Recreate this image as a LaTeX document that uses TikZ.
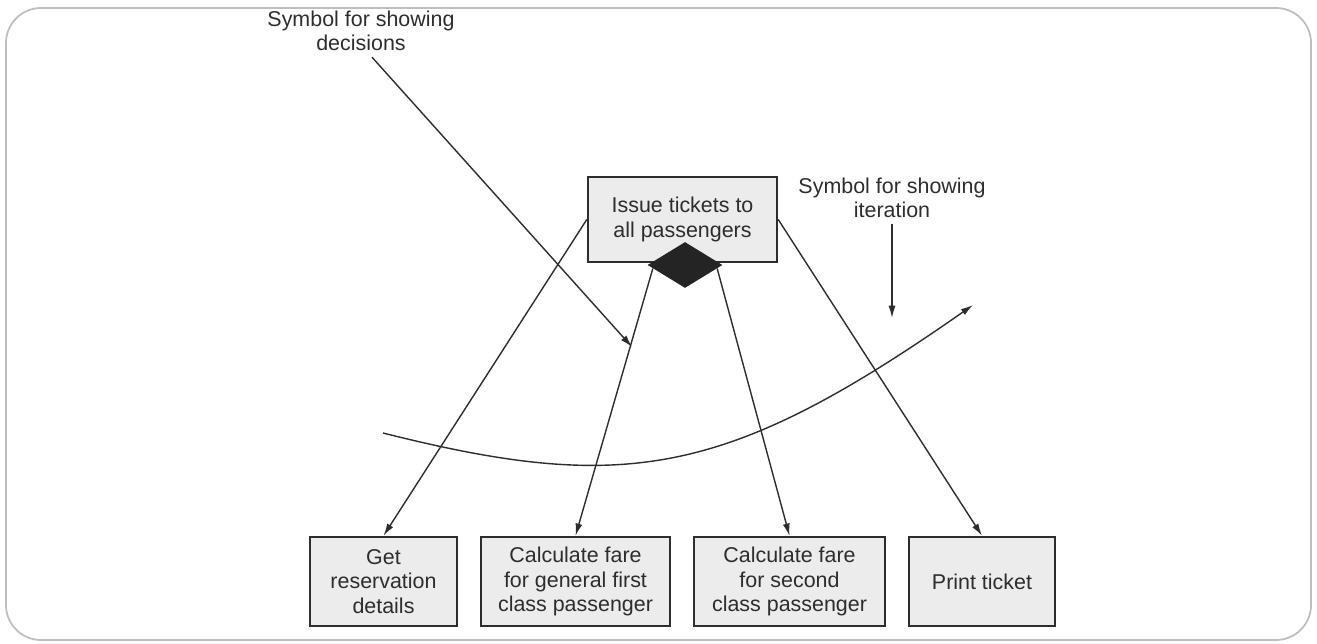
\documentclass[tikz,border=0pt]{standalone}
\usepackage{fontspec}
\setmainfont{Liberation Sans}
\usetikzlibrary{arrows.meta,positioning,shapes.geometric,calc}
\definecolor{ink}{RGB}{45,45,45}
\definecolor{panel}{RGB}{236,236,236}
\definecolor{frame}{RGB}{190,190,190}
\tikzset{
  >={Latex[length=7pt,width=4pt]},
  task/.style={draw=ink,fill=panel,line width=1.4pt,minimum height=1.78cm,
    minimum width=#1,align=center,inner sep=2pt,text=ink,
    font=\fontsize{12.2}{13.8}\selectfont},
  task/.default=2.94cm,
  note/.style={text=ink,align=center,font=\fontsize{12.2}{13.8}\selectfont},
  link/.style={->,draw=ink,line width=0.8pt},
  choice/.style={diamond,fill=ink!80!black,inner sep=0pt,
    minimum width=1.5cm,minimum height=0.92cm},
}

\begin{document}
\begin{tikzpicture}[x=0.02cm,y=-0.02cm]
  \useasboundingbox (0,0) rectangle (1317,644);
  \draw[frame,line width=1pt,rounded corners=0.7cm] (6,8) rectangle (1311,640);
  % boxes
  \node[task=3.78cm,minimum height=1.7cm] (issue) at (682.5,219.5) {Issue tickets to\\all passengers};
  \node[choice] (dec) at (685,265) {};
  \node[task] (get) at (383.5,581.5) {Get\\reservation\\details};
  \node[task=3.78cm] (first) at (575.5,581.5) {Calculate fare\\for general first\\class passenger};
  \node[task=3.82cm] (second) at (789.5,581.5) {Calculate fare\\for second\\class passenger};
  \node[task=2.92cm] (print) at (982,581.5) {Print ticket};
  % notes
  \node[note] (decnote) at (361,31) {Symbol for showing\\decisions};
  \node[note] (iternote) at (892,198) {Symbol for showing\\iteration};
  \coordinate (dectip) at (632,347);
  \coordinate (itertip) at (892,318);
  \coordinate (loopstart) at (383,433);
  \coordinate (loopend) at (973,305);
  % connectors
  \draw[link] (issue.west) -- (get.north);
  \draw[link] ($(dec.west)!0.15!(dec.south)$) -- (first.north);
  \draw[link] ($(dec.east)!0.15!(dec.south)$) -- (second.north);
  \draw[link] (issue.east) -- (print.north);
  \draw[link] ($(decnote.south)+(11,0)$) -- (dectip);
  \draw[link] (iternote.south) -- (itertip);
  \draw[link] (loopstart) .. controls (625,494) and (727,477) .. (loopend);
\end{tikzpicture}
\end{document}
